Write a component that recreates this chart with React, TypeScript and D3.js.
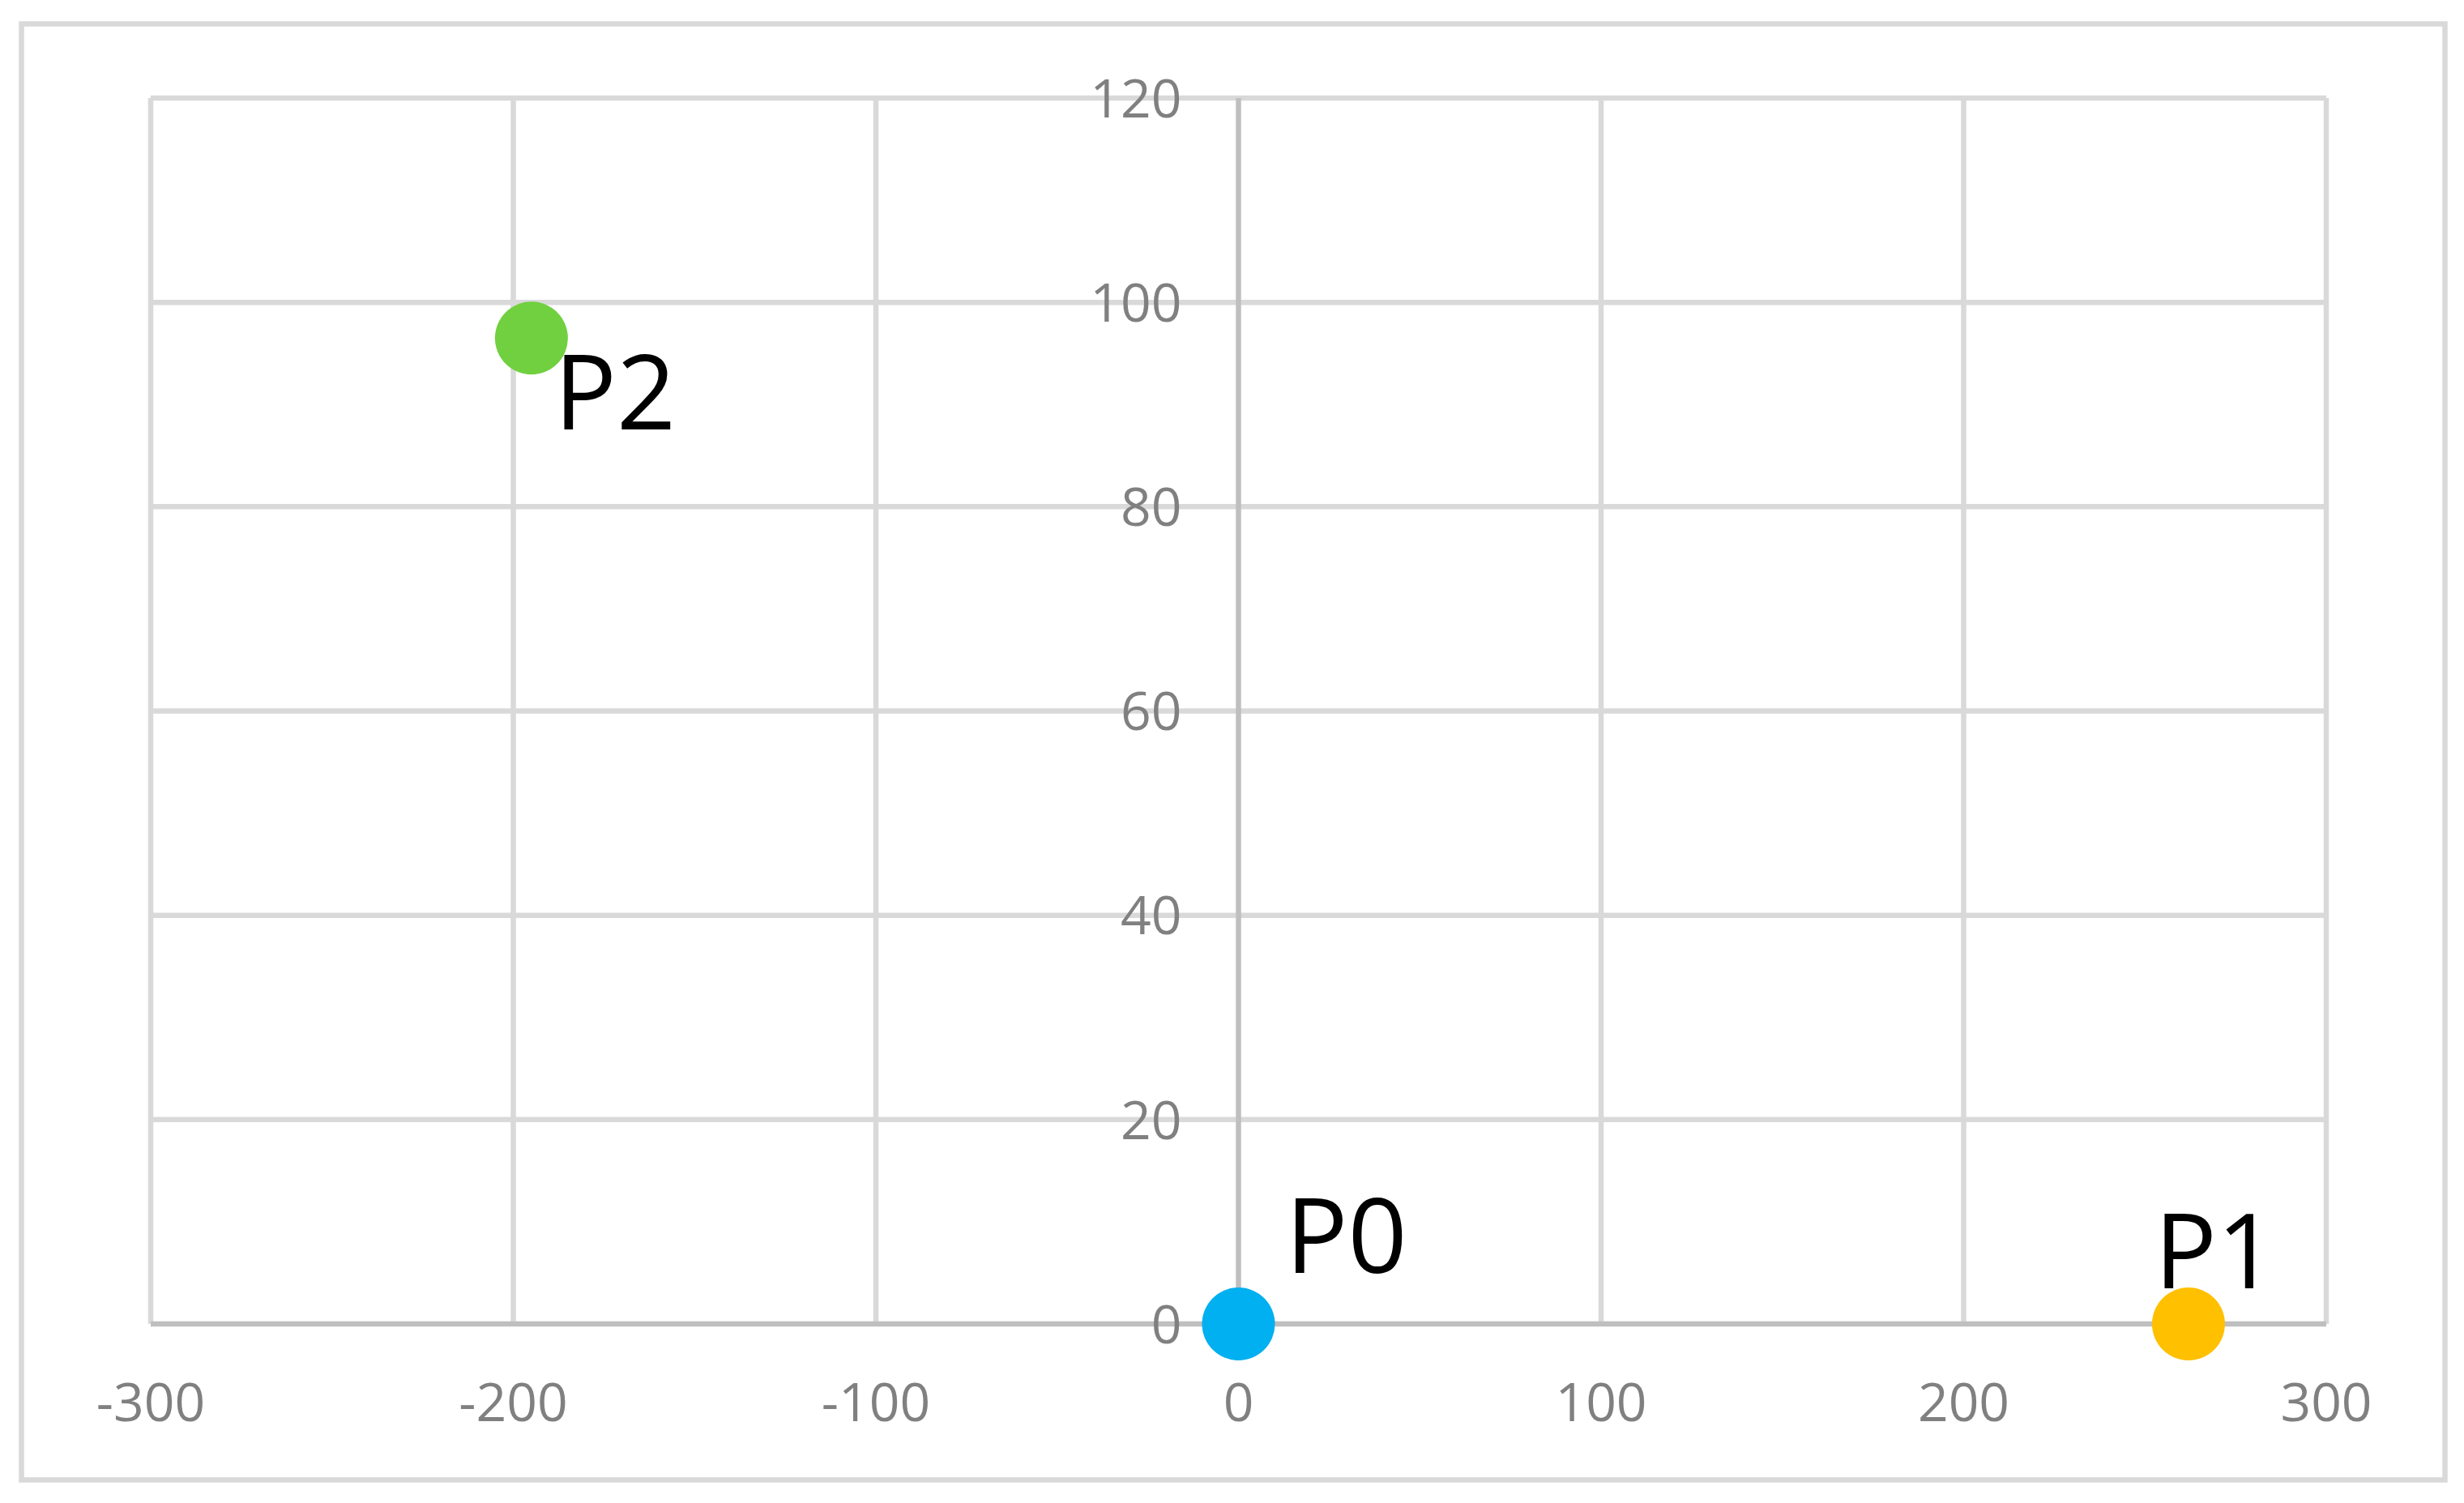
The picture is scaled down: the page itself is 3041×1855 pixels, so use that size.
import React from "react";
import * as d3 from "d3";

const pointNames = ["P0", "P1", "P2"];
const xValues = [0, 262, -195];
const yValues = [0, 0, 96.5];
const pointColors = ["#00B0F0", "#FFC000", "#70D040"];
const xTicks = [-300, -200, -100, 0, 100, 200, 300];
const yTicks = [0, 20, 40, 60, 80, 100, 120];
// label offsets (px) relative to the marker centre
const labelDx = [58, -42, 28];
const labelDy = [-63, -44, 113];

const W = 3041;
const H = 1855;

export default function App() {
  const x = d3.scaleLinear().domain([-300, 300]).range([186, 2871]);
  const y = d3.scaleLinear().domain([0, 120]).range([1634, 121]);
  const font = "'Open Sans', 'Noto Sans', sans-serif";
  return (
    <svg
      width={W}
      height={H}
      style={{ position: "absolute", left: 0, top: 0, background: "#fff" }}
    >
      <rect x={0} y={0} width={W} height={H} fill="#fff" />
      <rect x={26.5} y={29.5} width={2991} height={1797} fill="#fff" stroke="#d9d9d9" strokeWidth={6.5} />
      {/* gridlines */}
      {yTicks.filter((t) => t !== 0).map((t) => (
        <line key={"gy" + t} x1={x(-300)} x2={x(300)} y1={y(t)} y2={y(t)} stroke="#d9d9d9" strokeWidth={6.5} />
      ))}
      {xTicks.filter((t) => t !== 0).map((t) => (
        <line key={"gx" + t} x1={x(t)} x2={x(t)} y1={y(120)} y2={y(0)} stroke="#d9d9d9" strokeWidth={6.5} />
      ))}
      {/* axes */}
      <line x1={x(0)} x2={x(0)} y1={y(120)} y2={y(0)} stroke="#bfbfbf" strokeWidth={6.5} />
      <line x1={x(-300)} x2={x(300)} y1={y(0)} y2={y(0)} stroke="#bfbfbf" strokeWidth={6.5} />
      {/* tick labels */}
      {xTicks.map((t) => (
        <text key={"tx" + t} x={x(t)} y={1754} textAnchor="middle" fontFamily={font} fontSize={66} fill="#808080">
          {t}
        </text>
      ))}
      {yTicks.map((t) => (
        <text key={"ty" + t} x={x(0) - 70} y={y(t)} dy="0.36em" textAnchor="end" fontFamily={font} fontSize={66} fill="#808080">
          {t}
        </text>
      ))}
      {/* data labels (drawn beneath the markers) */}
      {pointNames.map((n, i) => (
        <text key={"l" + n} x={x(xValues[i]) + labelDx[i]} y={y(yValues[i]) + labelDy[i]} fontFamily={font} fontSize={128} fill="#000">
          {n}
        </text>
      ))}
      {/* points */}
      {pointNames.map((n, i) => (
        <circle key={"c" + n} cx={x(xValues[i])} cy={y(yValues[i])} r={45} fill={pointColors[i]} />
      ))}
    </svg>
  );
}
